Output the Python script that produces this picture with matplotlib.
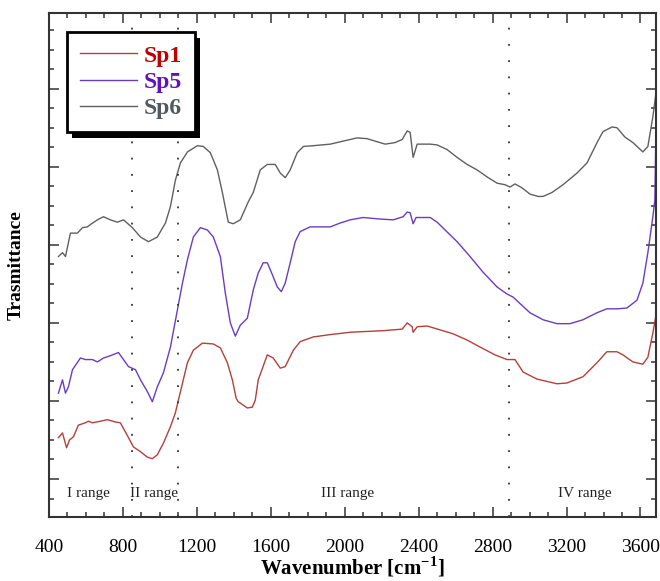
import numpy as np
import matplotlib
matplotlib.use('Agg')
import matplotlib.pyplot as plt
from matplotlib.patches import Rectangle
from matplotlib.transforms import IdentityTransform
from matplotlib.ticker import MultipleLocator

plt.rcParams['font.family'] = 'Liberation Serif'
plt.rcParams['mathtext.fontset'] = 'custom'
plt.rcParams['mathtext.rm'] = 'Liberation Serif'
plt.rcParams['mathtext.bf'] = 'Liberation Serif:bold'

# Sp6 spectrum (top trace)
wn_sp6 = [451, 473, 489, 516, 554, 581, 608, 624, 662, 695, 732, 770, 803, 851,
          895, 938, 986, 1030, 1057, 1084, 1111, 1149, 1203, 1235, 1273, 1311,
          1338, 1370, 1397, 1435, 1478, 1505, 1543, 1581, 1624, 1651, 1678,
          1705, 1743, 1776, 1830, 1922, 1976, 2067, 2121, 2176, 2219, 2273,
          2311, 2338, 2354, 2370, 2392, 2462, 2500, 2554, 2608, 2662, 2716,
          2770, 2824, 2867, 2894, 2921, 2959, 3002, 3046, 3073, 3121, 3181,
          3257, 3311, 3365, 3397, 3446, 3473, 3516, 3559, 3613, 3640, 3667, 3684]
tr_sp6 = [2.85, 2.90, 2.85, 3.15, 3.15, 3.22, 3.23, 3.26, 3.32, 3.36, 3.32, 3.29,
          3.32, 3.22, 3.10, 3.04, 3.10, 3.28, 3.49, 3.83, 4.05, 4.19, 4.27, 4.26,
          4.18, 3.96, 3.67, 3.29, 3.27, 3.32, 3.55, 3.67, 3.96, 4.03, 4.03, 3.92,
          3.86, 3.96, 4.18, 4.26, 4.27, 4.29, 4.32, 4.37, 4.36, 4.32, 4.29, 4.31,
          4.35, 4.46, 4.44, 4.12, 4.29, 4.29, 4.28, 4.22, 4.12, 4.03, 3.96, 3.87,
          3.79, 3.77, 3.74, 3.78, 3.73, 3.65, 3.62, 3.62, 3.67, 3.77, 3.92, 4.05,
          4.31, 4.45, 4.51, 4.50, 4.38, 4.31, 4.19, 4.26, 4.64, 4.95]

# Sp5 spectrum (middle trace)
wn_sp5 = [451, 473, 489, 505, 527, 570, 597, 635, 662, 695, 732, 776, 803, 830,
          868, 895, 932, 959, 986, 1019, 1057, 1095, 1122, 1149, 1181, 1219,
          1257, 1289, 1327, 1354, 1381, 1408, 1435, 1473, 1505, 1532, 1559,
          1581, 1608, 1635, 1657, 1678, 1705, 1732, 1759, 1813, 1922, 1976,
          2030, 2100, 2192, 2262, 2316, 2338, 2354, 2370, 2386, 2462, 2500,
          2543, 2608, 2678, 2748, 2824, 2878, 2911, 2938, 3002, 3073, 3148,
          3219, 3289, 3365, 3418, 3473, 3526, 3581, 3613, 3640, 3667, 3678, 3684]
tr_sp5 = [1.10, 1.27, 1.10, 1.18, 1.40, 1.55, 1.53, 1.53, 1.50, 1.55, 1.58, 1.62,
          1.53, 1.44, 1.40, 1.27, 1.12, 0.99, 1.18, 1.36, 1.69, 2.17, 2.51, 2.81,
          3.10, 3.22, 3.19, 3.10, 2.85, 2.38, 2.00, 1.83, 1.97, 2.06, 2.42, 2.64,
          2.77, 2.77, 2.62, 2.46, 2.40, 2.51, 2.77, 3.04, 3.17, 3.23, 3.23, 3.28,
          3.32, 3.35, 3.33, 3.32, 3.36, 3.42, 3.41, 3.27, 3.35, 3.35, 3.29, 3.19,
          3.04, 2.85, 2.65, 2.46, 2.37, 2.33, 2.27, 2.13, 2.04, 1.99, 1.99, 2.04,
          2.13, 2.18, 2.18, 2.19, 2.29, 2.51, 2.90, 3.36, 3.58, 4.54]

# Sp1 spectrum (bottom trace)
wn_sp1 = [451, 473, 495, 511, 532, 559, 597, 613, 635, 678, 716, 759, 786, 830,
          857, 895, 932, 959, 986, 1019, 1057, 1084, 1100, 1149, 1181, 1230,
          1289, 1327, 1365, 1392, 1413, 1424, 1473, 1500, 1516, 1532, 1581,
          1613, 1651, 1678, 1722, 1759, 1830, 1922, 2030, 2208, 2311, 2338,
          2365, 2370, 2392, 2446, 2516, 2586, 2662, 2732, 2813, 2878, 2921,
          2965, 3040, 3148, 3202, 3289, 3365, 3418, 3473, 3505, 3559, 3613,
          3640, 3667, 3684]
tr_sp1 = [0.53, 0.59, 0.40, 0.50, 0.54, 0.69, 0.72, 0.74, 0.72, 0.74, 0.76, 0.73,
          0.72, 0.53, 0.41, 0.35, 0.28, 0.26, 0.31, 0.46, 0.67, 0.85, 1.01, 1.49,
          1.65, 1.74, 1.73, 1.68, 1.49, 1.27, 1.03, 0.99, 0.91, 0.92, 1.01, 1.27,
          1.59, 1.55, 1.42, 1.44, 1.65, 1.76, 1.82, 1.85, 1.88, 1.90, 1.92, 2.00,
          1.95, 1.88, 1.95, 1.96, 1.91, 1.86, 1.78, 1.69, 1.59, 1.53, 1.53, 1.37,
          1.28, 1.22, 1.23, 1.31, 1.49, 1.63, 1.63, 1.59, 1.50, 1.47, 1.56, 1.87,
          2.10]

range_bounds = [850, 1100, 2890]
range_names = ['I range', 'II range', 'III range', 'IV range']
range_pos = [613, 970, 2013, 3300]

fig = plt.figure(figsize=(6.6, 5.81), dpi=100)
ax = fig.add_axes([49 / 660, 64 / 581, 607 / 660, 504 / 581])

ax.plot(wn_sp1, tr_sp1, color='#b4403c', lw=1.0, label='Sp1')
ax.plot(wn_sp5, tr_sp5, color='#6a3cc4', lw=1.0, label='Sp5')
ax.plot(wn_sp6, tr_sp6, color='#606060', lw=1.0, label='Sp6')

for b in range_bounds:
    ax.axvline(b, color='#333333', lw=1.3, linestyle=(0, (1, 8)))

for name, xp in zip(range_names, range_pos):
    ax.text(xp, -0.18, name, ha='center', va='center', fontsize=11, color='#222222')

ax.set_xlim(400, 3684)
ax.set_ylim(-0.487, 5.97)
ax.xaxis.set_major_locator(MultipleLocator(400))
ax.xaxis.set_minor_locator(MultipleLocator(100))
ax.yaxis.set_major_locator(MultipleLocator(1))
ax.yaxis.set_minor_locator(MultipleLocator(0.25))
ax.tick_params(which='both', direction='in', top=True, right=True,
               color='#444444', width=1.2)
ax.tick_params(which='major', length=7)
ax.tick_params(which='minor', length=3.5)
ax.tick_params(axis='x', pad=16, labelsize=14)
ax.tick_params(axis='y', labelleft=False)
for s in ax.spines.values():
    s.set_linewidth(1.5)
    s.set_color('#333333')

ax.set_xlabel('Wavenumber [cm$^{\\mathbf{-1}}$]', fontsize=15, fontweight='bold', labelpad=-1)
ax.set_ylabel('Trasmittance', fontsize=14, fontweight='bold', labelpad=14)

leg = ax.legend(loc='upper left', bbox_to_anchor=(0.030, 0.962), frameon=True,
                fancybox=False, borderaxespad=0, prop={'weight': 'bold', 'size': 17},
                labelcolor=['#c00000', '#6010c0', '#505860'],
                handlelength=2.4, handletextpad=0.3, labelspacing=0.2,
                borderpad=0.55, framealpha=1, facecolor='white')
leg.get_frame().set_edgecolor('black')
leg.get_frame().set_linewidth(2)
leg.set_zorder(5)

# solid drop shadow under the legend box
fig.canvas.draw()
bb = leg.get_window_extent()
shadow = Rectangle((bb.x0 + 5, bb.y0 - 6), bb.width, bb.height, transform=IdentityTransform(),
                   facecolor='black', edgecolor='none', zorder=4.9, clip_on=False)
ax.add_artist(shadow)

fig.savefig('out.png', dpi=100)
